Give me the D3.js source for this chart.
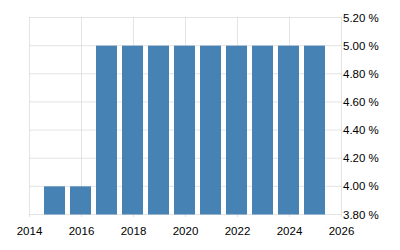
<!DOCTYPE html>
<html lang="en">
<head>
<meta charset="UTF-8"/>
<title>Rate bars</title>
<script src="https://d3js.org/d3.v7.min.js"></script>
<style>
	body { margin: 0; background: #fff; }
	text { font-family: "Liberation Sans", Arial, sans-serif; font-size: 11.5px; fill: #000; }
</style>
</head>
<body>
<script>
	var years = [2015, 2016, 2017, 2018, 2019, 2020, 2021, 2022, 2023, 2024, 2025];
	var values = [4.00, 4.00, 5.00, 5.00, 5.00, 5.00, 5.00, 5.00, 5.00, 5.00, 5.00];
	var xTicks = [2014, 2016, 2018, 2020, 2022, 2024, 2026];
	var yTicks = [3.80, 4.00, 4.20, 4.40, 4.60, 4.80, 5.00, 5.20];

	var w = 400, h = 250;
	// note: "top" is taken by window.top, so use plotTop
	var plotLeft = 29.5, plotRight = 341.5, plotTop = 17.5, plotBottom = 214.5;

	var xScale = d3.scaleLinear().domain([2014, 2026]).range([plotLeft, plotRight]);
	var yScale = d3.scaleLinear().domain([3.8, 5.2]).range([plotBottom, plotTop]);

	var svg = d3.select("body").append("svg").attr("width", w).attr("height", h);

	// grid
	svg.selectAll("line.hgrid").data(yTicks).enter().append("line")
		.attr("class", "hgrid")
		.attr("x1", plotLeft).attr("x2", plotRight)
		.attr("y1", function(d){ return yScale(d); })
		.attr("y2", function(d){ return yScale(d); })
		.attr("stroke", "#c8c8c8").attr("stroke-dasharray", "1,1");

	svg.selectAll("line.vgrid").data(xTicks).enter().append("line")
		.attr("class", "vgrid")
		.attr("x1", function(d){ return xScale(d); })
		.attr("x2", function(d){ return xScale(d); })
		.attr("y1", plotTop).attr("y2", plotBottom + 3)
		.attr("stroke", "#c8c8c8").attr("stroke-dasharray", "1,1");

	// bars
	svg.selectAll("rect").data(years).enter().append("rect")
		.attr("x", function(d){ return xScale(d) - 11.5; })
		.attr("width", 21)
		.attr("y", function(d, i){ return yScale(values[i]); })
		.attr("height", function(d, i){ return yScale(3.8) - yScale(values[i]); })
		.attr("fill", "#4682b4");

	// labels
	svg.selectAll("text.xl").data(xTicks).enter().append("text")
		.attr("class", "xl")
		.attr("x", function(d){ return xScale(d); })
		.attr("y", 234.5)
		.attr("text-anchor", "middle")
		.text(function(d){ return d; });

	svg.selectAll("text.yl").data(yTicks).enter().append("text")
		.attr("class", "yl")
		.attr("x", 343)
		.attr("y", function(d){ return yScale(d) + 4; })
		.text(function(d){ return d3.format(".2f")(d) + " %"; });
</script>
</body>
</html>
